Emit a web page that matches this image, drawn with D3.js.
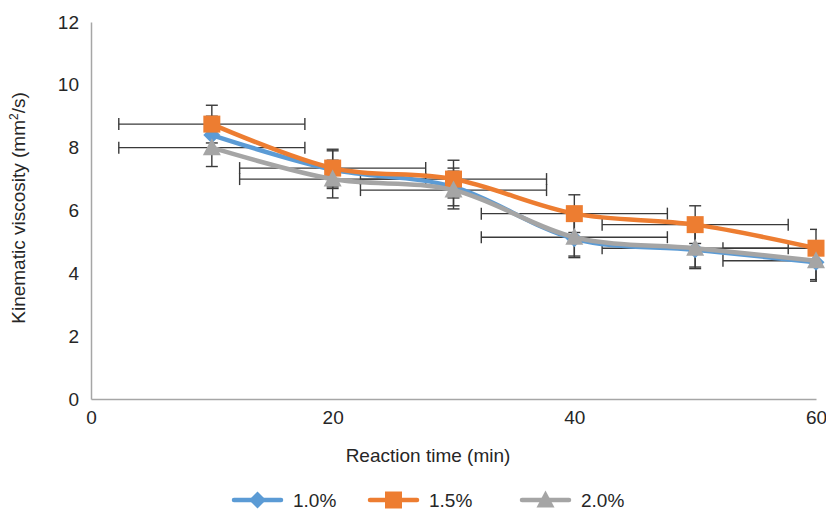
<!DOCTYPE html>
<html>
<head>
<meta charset="utf-8">
<script src="https://cdn.jsdelivr.net/npm/d3@7"></script>
<style>
  html, body { margin: 0; padding: 0; background: #fff; }
  svg { display: block; font-family: "Liberation Sans", Arial, sans-serif; }
</style>
</head>
<body>
<svg id="chart" width="826" height="510"></svg>
<script>
// ---- data ----
const times = [10, 20, 30, 40, 50, 60];
const seriesNames = ["1.0%", "1.5%", "2.0%"];
const values10 = [8.4, 7.3, 6.75, 5.1, 4.75, 4.35];
const values15 = [8.75, 7.35, 7.0, 5.9, 5.55, 4.8];
const values20 = [8.0, 7.0, 6.65, 5.15, 4.8, 4.4];
const yError = [0.6, 0.6, 0.6];
const xError = [0, 7.7, 7.7];
const xTicks = [0, 20, 40, 60];
const yTicks = [0, 2, 4, 6, 8, 10, 12];
const colors = ["#5B9BD5", "#ED7D31", "#A5A5A5"];
const markers = ["diamond", "square", "triangle"];

const allValues = [values10, values15, values20];

const svg = d3.select("#chart");
const x = d3.scaleLinear().domain([0, 60]).range([91, 816]);
const y = d3.scaleLinear().domain([0, 12]).range([399, 22]);

// clip for plot area (error bars)
svg.append("defs").append("clipPath").attr("id", "plotclip")
  .append("rect").attr("x", 90).attr("y", 0).attr("width", 727).attr("height", 420);

// axes
const xAxis = d3.axisBottom(x).tickValues(xTicks).tickSize(0).tickPadding(12);
const yAxis = d3.axisLeft(y).tickValues(yTicks).tickSize(0).tickPadding(12);

const gx = svg.append("g").attr("transform", `translate(0,${y(0)})`).call(xAxis);
const gy = svg.append("g").attr("transform", `translate(${x(0)},0)`).call(yAxis);
[gx, gy].forEach(g => {
  g.select(".domain").attr("stroke", "#A6A6A6").attr("stroke-width", 1.5);
  g.selectAll("text").attr("font-size", 19).attr("fill", "#262626")
    .attr("font-family", "'Liberation Sans', Arial, sans-serif");
});
gx.selectAll("text").attr("dy", "0.71em");

// error bars
const eb = svg.append("g").attr("clip-path", "url(#plotclip)")
  .attr("stroke", "#3A3A3A").attr("stroke-width", 1.4).attr("fill", "none");
const cap = 6;
allValues.forEach((vals, si) => {
  vals.forEach((v, i) => {
    const t = times[i];
    // vertical
    const e = yError[si];
    eb.append("line").attr("x1", x(t)).attr("x2", x(t)).attr("y1", y(v + e)).attr("y2", y(v - e));
    eb.append("line").attr("x1", x(t) - cap).attr("x2", x(t) + cap).attr("y1", y(v + e)).attr("y2", y(v + e));
    eb.append("line").attr("x1", x(t) - cap).attr("x2", x(t) + cap).attr("y1", y(v - e)).attr("y2", y(v - e));
    // horizontal
    const xe = xError[si];
    if (xe > 0) {
      eb.append("line").attr("x1", x(t - xe)).attr("x2", x(t + xe)).attr("y1", y(v)).attr("y2", y(v));
      eb.append("line").attr("x1", x(t - xe)).attr("x2", x(t - xe)).attr("y1", y(v) - cap).attr("y2", y(v) + cap);
      eb.append("line").attr("x1", x(t + xe)).attr("x2", x(t + xe)).attr("y1", y(v) - cap).attr("y2", y(v) + cap);
    }
  });
});

// marker path
function markerPath(type, cx, cy) {
  if (type === "diamond") {
    const r = 8.5;
    return `M${cx},${cy - r}L${cx + r},${cy}L${cx},${cy + r}L${cx - r},${cy}Z`;
  } else if (type === "square") {
    const h = 8.5;
    return `M${cx - h},${cy - h}H${cx + h}V${cy + h}H${cx - h}Z`;
  } else {
    const h = 8.5;
    return `M${cx},${cy - h - 1}L${cx + h + 0.5},${cy + h - 1}L${cx - h - 0.5},${cy + h - 1}Z`;
  }
}

// lines
const line = d3.line().x(d => x(d[0])).y(d => y(d[1])).curve(d3.curveCardinal.tension(0));
allValues.forEach((vals, si) => {
  const pts = times.map((t, i) => [t, vals[i]]);
  svg.append("path").datum(pts).attr("d", line)
    .attr("fill", "none").attr("stroke", colors[si]).attr("stroke-width", 4.5)
    .attr("stroke-linejoin", "round").attr("stroke-linecap", "round");
  svg.append("g").selectAll("path").data(pts).join("path")
    .attr("d", d => markerPath(markers[si], x(d[0]), y(d[1])))
    .attr("fill", colors[si]);
});

// axis titles
svg.append("text").attr("x", 428).attr("y", 462).attr("text-anchor", "middle")
  .attr("font-size", 19).attr("fill", "#262626").text("Reaction time (min)");
const yt = svg.append("text").attr("transform", "translate(25,208) rotate(-90)")
  .attr("text-anchor", "middle").attr("font-size", 19).attr("fill", "#262626");
yt.append("tspan").text("Kinematic viscosity (mm");
yt.append("tspan").attr("font-size", 12).attr("dy", -7).text("2");
yt.append("tspan").attr("dy", 7).text("/s)");

// legend
const legendX = [234, 370, 522];
const legendY = 500;
seriesNames.forEach((name, si) => {
  const lx = legendX[si];
  svg.append("line").attr("x1", lx).attr("x2", lx + 47).attr("y1", legendY).attr("y2", legendY)
    .attr("stroke", colors[si]).attr("stroke-width", 4.5).attr("stroke-linecap", "round");
  svg.append("path").attr("d", markerPath(markers[si], lx + 23.5, legendY)).attr("fill", colors[si]);
  svg.append("text").attr("x", lx + 59).attr("y", legendY + 7).attr("font-size", 19)
    .attr("fill", "#262626").text(name);
});
</script>
</body>
</html>
